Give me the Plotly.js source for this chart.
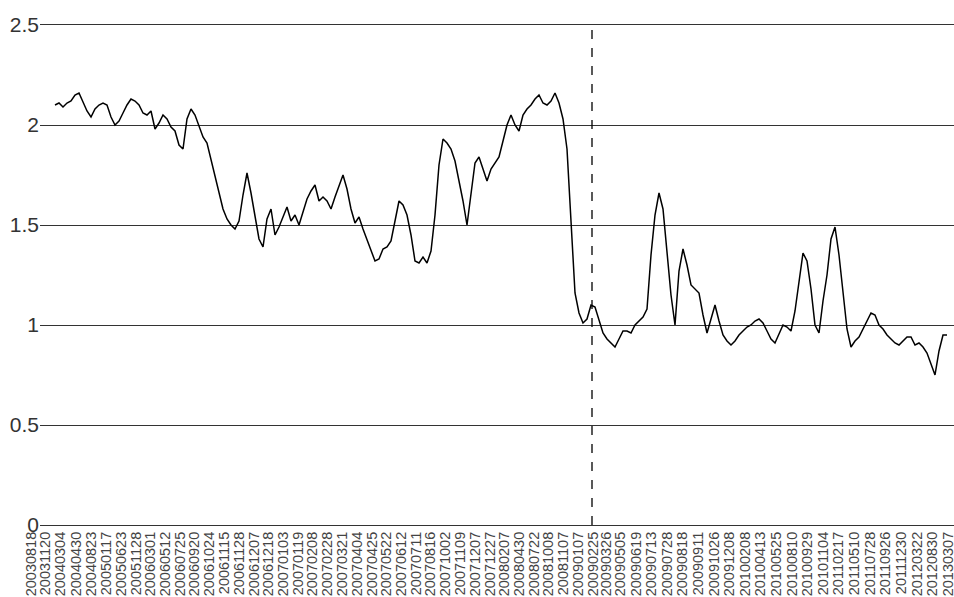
<!DOCTYPE html>
<html>
<head>
<meta charset="utf-8">
<script src="https://cdn.plot.ly/plotly-3.0.1.min.js"></script>
<style>
html,body{margin:0;padding:0;background:#fff;overflow:hidden;width:954px;height:597px;}
#chart{width:970px;height:597px;}
</style>
</head>
<body>
<div id="chart"></div>
<script>
// Series values, one per observation (observation index on x)
const values = [
2.10,2.11,2.09,2.11,2.12,2.15,2.16,2.11,2.07,2.04,
2.08,2.10,2.11,2.10,2.04,2.00,2.02,2.06,2.10,2.13,
2.12,2.10,2.06,2.05,2.07,1.98,2.01,2.05,2.03,1.99,
1.97,1.90,1.88,2.03,2.08,2.05,1.99,1.94,1.91,1.83,
1.75,1.67,1.58,1.53,1.50,1.48,1.52,1.65,1.76,1.66,
1.55,1.43,1.39,1.53,1.58,1.45,1.49,1.54,1.59,1.52,
1.55,1.50,1.57,1.63,1.67,1.70,1.62,1.64,1.62,1.58,
1.64,1.69,1.75,1.68,1.58,1.51,1.54,1.48,1.43,1.38,
1.32,1.33,1.38,1.39,1.42,1.52,1.62,1.60,1.55,1.45,
1.32,1.31,1.34,1.31,1.37,1.55,1.80,1.93,1.91,1.88,
1.82,1.72,1.62,1.50,1.65,1.81,1.84,1.78,1.72,1.78,
1.81,1.84,1.92,2.00,2.05,2.00,1.97,2.05,2.08,2.10,
2.13,2.15,2.11,2.10,2.12,2.16,2.11,2.03,1.88,1.50,
1.16,1.06,1.01,1.03,1.10,1.09,1.02,0.96,0.93,0.91,
0.89,0.93,0.97,0.97,0.96,1.00,1.02,1.04,1.08,1.35,
1.55,1.66,1.58,1.38,1.15,1.00,1.27,1.38,1.30,1.20,
1.18,1.16,1.05,0.96,1.03,1.10,1.02,0.95,0.92,0.90,
0.92,0.95,0.97,0.99,1.00,1.02,1.03,1.01,0.97,0.93,
0.91,0.96,1.00,0.99,0.97,1.07,1.22,1.36,1.32,1.18,
1.00,0.96,1.12,1.25,1.43,1.49,1.35,1.15,0.98,0.89,
0.92,0.94,0.98,1.02,1.06,1.05,1.00,0.98,0.95,0.93,
0.91,0.90,0.92,0.94,0.94,0.90,0.91,0.89,0.86,0.80,
0.75,0.87,0.95,0.95
];

// Date tick labels and the observation index at which each one sits
const tickLabels = [
"20030818","20031120","20040304","20040430","20040823","20050117","20050623","20051128",
"20060301","20060512","20060725","20060920","20061024","20061115","20061128","20061207",
"20061218","20070103","20070119","20070208","20070228","20070321","20070404","20070425",
"20070522","20070612","20070711","20070816","20071002","20071109","20071207","20071227",
"20080207","20080430","20080722","20081008","20081107","20090107","20090225","20090326",
"20090505","20090619","20090713","20090728","20090818","20090911","20091026","20091208",
"20100208","20100413","20100525","20100810","20100929","20101104","20110217","20110510",
"20110728","20110926","20111230","20120322","20120830","20130307"
];
const tickIndex = [
-3.5,0.0,3.9,7.75,11.6,15.3,19.0,22.7,26.4,30.1,33.7,37.4,41.1,44.8,48.5,52.2,
55.9,59.5,63.2,66.9,70.6,74.3,78.0,81.7,85.4,89.0,92.7,96.4,100.1,103.8,107.5,111.2,
114.9,118.5,122.2,125.9,129.6,133.3,137.0,140.4,143.75,147.7,151.6,155.5,159.4,163.3,
167.2,171.1,175.0,178.9,182.8,186.7,190.6,194.5,198.4,202.3,206.2,210.1,214.0,218.0,
221.8,225.75
];
// observation index of the dashed vertical marker
const markerIndex = 134.25;

const yTicks = [0, 0.5, 1, 1.5, 2, 2.5];
const yTickText = ["0", "0.5", "1", "1.5", "2", "2.5"];

const xs = values.map((_, i) => i);

const trace = {
  x: xs,
  y: values,
  type: 'scatter',
  mode: 'lines',
  line: {color: '#000', width: 1.5},
  hoverinfo: 'skip'
};

const layout = {
  width: 970,
  height: 597,
  margin: {l: 40, r: 0, t: 25, b: 72, pad: 0},
  paper_bgcolor: '#fff',
  plot_bgcolor: '#fff',
  showlegend: false,
  font: {family: 'Liberation Sans, Arial, sans-serif', color: '#333'},
  xaxis: {
    range: [-3.75, 228.75],
    tickmode: 'array',
    tickvals: tickIndex,
    ticktext: tickLabels,
    tickangle: -90,
    ticklabelshift: -10,
    ticklabeloverflow: 'allow',
    tickfont: {size: 14.5, color: '#444', family: 'Liberation Sans, Arial, sans-serif'},
    showgrid: false,
    zeroline: false,
    showline: true,
    mirror: true,
    linecolor: '#333',
    linewidth: 1,
    ticks: '',
    fixedrange: true
  },
  yaxis: {
    range: [0, 2.5],
    tickmode: 'array',
    tickvals: yTicks,
    ticktext: yTickText,
    tickfont: {size: 21, color: '#333', family: 'Liberation Sans, Arial, sans-serif'},
    showgrid: true,
    gridcolor: '#333',
    gridwidth: 1,
    zeroline: false,
    showline: false,
    ticks: '',
    fixedrange: true
  },
  shapes: [{
    type: 'line',
    xref: 'x', yref: 'paper',
    x0: markerIndex, x1: markerIndex, y0: 0, y1: 1,
    line: {color: '#000', width: 1.3, dash: 'dash'}
  }]
};

Plotly.newPlot('chart', [trace], layout, {displayModeBar: false, staticPlot: true});
</script>
</body>
</html>
